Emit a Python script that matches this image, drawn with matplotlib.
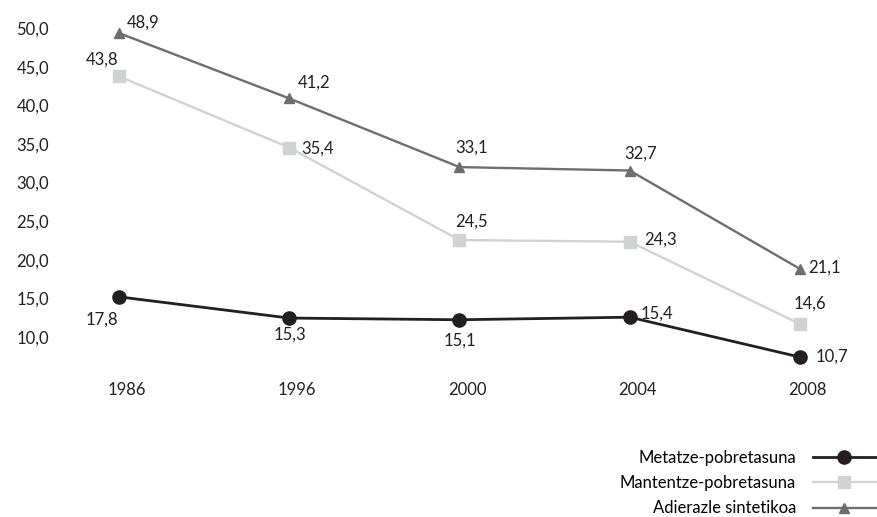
import matplotlib.pyplot as plt
import matplotlib.transforms as mtransforms

plt.rcParams['font.family'] = ['Lato', 'DejaVu Sans']

years = ['1986', '1996', '2000', '2004', '2008']
metatze = [17.8, 15.3, 15.1, 15.4, 10.7]
mantentze = [43.8, 35.4, 24.5, 24.3, 14.6]
adierazle = [48.9, 41.2, 33.1, 32.7, 21.1]
labels = ['Metatze-pobretasuna', 'Mantentze-pobretasuna', 'Adierazle sintetikoa']
yticks = [10, 15, 20, 25, 30, 35, 40, 45, 50]

# value label offsets in pixels (dx, dy up, ha)
off_metatze = [(-1, -23, 'right'), (1, -17, 'center'), (0, -21, 'center'),
               (11, 4, 'left'), (16, 0, 'left')]
off_mantentze = [(-1, 17, 'right'), (12, -1, 'left'), (-4, 18, 'left'),
                 (14, 2, 'left'), (-6, 20, 'left')]
off_adierazle = [(8, 11, 'left'), (8, 16, 'left'), (-4, 19, 'left'),
                 (-5, 17, 'left'), (8, 1, 'left')]

fig = plt.figure(figsize=(8.78, 5.17), dpi=100)
left, width = 70 / 878, 780 / 878
ax = fig.add_axes([left, 1 - 363 / 517, width, 339.2 / 517])
# the printed y scale is offset from the data scale in the original chart
ax_lbl = fig.add_axes([left, 1 - 337 / 517, width, 309 / 517])
ax_lbl.patch.set_visible(False)

x = range(len(years))
series = [
    (metatze, '#231f20', 'o', 9.5, 2.0, off_metatze),
    (mantentze, '#d1d2d3', 's', 8, 1.7, off_mantentze),
    (adierazle, '#6d6e71', '^', 6.5, 1.7, off_adierazle),
]
for (vals, col, mk, ms, lw, offs), lab in zip(series, labels):
    ax.plot(x, vals, color=col, marker=mk, markersize=ms, linewidth=lw,
            label=lab, clip_on=False, zorder=3)
    for xi, v, (dx, dy, ha) in zip(x, vals, offs):
        ax.annotate(f'{v:.1f}'.replace('.', ','), (xi, v),
                    xytext=(dx * 0.72, dy * 0.72), textcoords='offset points',
                    ha=ha, va='center', fontsize=12, color='#231f20')

ax.set_xlim(-49 / 170, 4 + 50 / 170)
ax.set_ylim(10, 50)
ax.set_xticks(list(x))
ax.set_xticklabels(years)
ax.set_yticks([])
ax.tick_params(axis='x', length=0, labelsize=12, colors='#231f20', pad=14)
shift = mtransforms.ScaledTranslation(8 / 100, 0, fig.dpi_scale_trans)
for t in ax.get_xticklabels():
    t.set_transform(t.get_transform() + shift)

ax_lbl.set_ylim(10, 50)
ax_lbl.set_xticks([])
ax_lbl.set_yticks(yticks)
ax_lbl.set_yticklabels([f'{t:.1f}'.replace('.', ',') for t in yticks])
ax_lbl.tick_params(axis='y', length=0, labelsize=12, colors='#231f20', pad=15)

for a in (ax, ax_lbl):
    for s in a.spines.values():
        s.set_visible(False)

ax.legend(loc='upper right', bbox_to_anchor=(876 / 878, 1 - 450 / 517),
          bbox_transform=fig.transFigure, frameon=False, markerfirst=False,
          handlelength=3.8, labelspacing=0.55, fontsize=12, handletextpad=1.0,
          borderaxespad=0, borderpad=0)

fig.savefig('out.png', dpi=100)
